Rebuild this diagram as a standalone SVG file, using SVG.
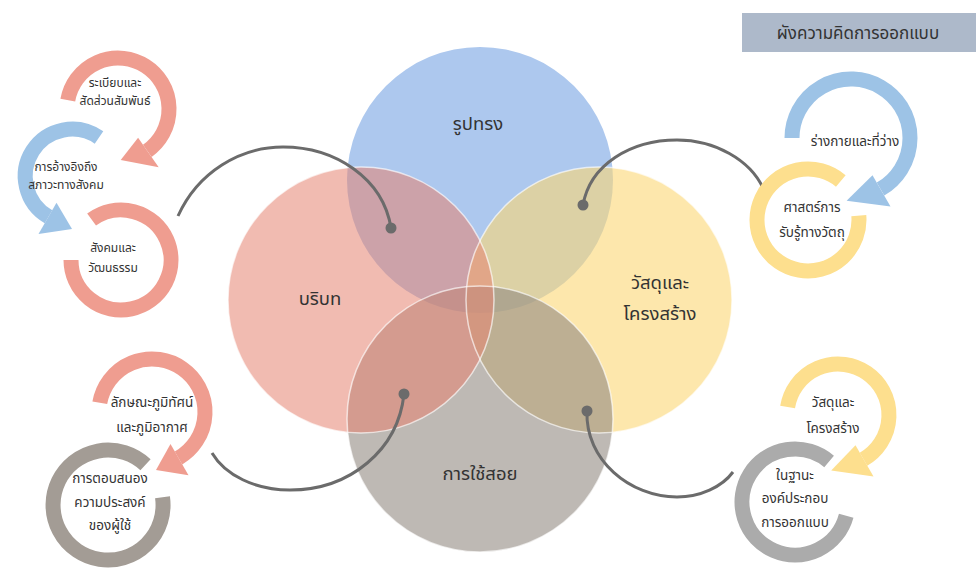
<svg xmlns="http://www.w3.org/2000/svg" width="976" height="585" viewBox="0 0 976 585">
<defs>
<style>
.t{font-family:'Noto Sans Thai','Tahoma','Noto Sans','DejaVu Sans',sans-serif;fill:#333;text-anchor:middle}
.big{font-size:18.5px}
.sm{font-size:12px}
.md{font-size:13.5px}
.edge{fill:none;stroke:#fff;stroke-width:1.5;stroke-opacity:.65}
.band{fill:none;stroke-width:15;stroke-linecap:butt}
.sal{stroke:#EF9D90}.salf{fill:#EF9D90}
.blu{stroke:#9DC3E6}.bluf{fill:#9DC3E6}
.yel{stroke:#FDDF8E}.yelf{fill:#FDDF8E}
.gry{stroke:#A39C95}
.gry2{stroke:#ABABAB}
.con{fill:none;stroke:#6B6B6B;stroke-width:3}
.dot{fill:#6B6B6B}
</style>
</defs>
<rect width="976" height="585" fill="#fff"/>

<g id="title">
<rect x="742" y="13" width="234" height="39" fill="#ADB9CA"/>
<text class="t" x="858" y="39" font-size="17">ผังความคิดการออกแบบ</text>
</g>

<g id="venn">
<circle id="c-form" cx="480" cy="180" r="133" fill="#ADC8EE"/>
<circle id="c-material" cx="599" cy="300" r="133" fill="#FCD775" fill-opacity=".6"/>
<circle id="c-use" cx="480" cy="419" r="133" fill="#938A82" fill-opacity=".6"/>
<circle id="c-context" cx="361" cy="300" r="133" fill="#E68371" fill-opacity=".55"/>
<circle class="edge" cx="599" cy="300" r="133"/>
<circle class="edge" cx="480" cy="419" r="133"/>
<circle class="edge" cx="361" cy="300" r="133"/>
</g>

<g id="venn-labels">
<text class="t big" x="478" y="130">รูปทรง</text>
<text class="t big" x="320" y="305">บริบท</text>
<text class="t big" x="660" y="289">วัสดุและ</text>
<text class="t big" x="660" y="320">โครงสร้าง</text>
<text class="t big" x="480" y="480">การใช้สอย</text>
</g>

<g id="connectors">
<path class="con" d="M178,216 C198,172 240,147 283,147 C335,147 383,178 391,228"/>
<circle class="dot" cx="391" cy="228" r="5.5"/>
<path class="con" d="M583,205 C590,165 630,140 677,140 C715,140 750,160 763,188"/>
<circle class="dot" cx="583" cy="205" r="5.5"/>
<path class="con" d="M404,394 C398,450 350,490 290,490 C255,490 225,475 212,453"/>
<circle class="dot" cx="404" cy="394" r="5.5"/>
<path class="con" d="M587,411 C585,460 630,497 677,497 C700,497 722,487 733,472"/>
<circle class="dot" cx="587" cy="411" r="5.5"/>
</g>

<g id="ring-order">
<path class="band sal" d="M67.8,100.1 A51,51 0 1 1 147.3,150.8"/>
<polygon class="salf" points="138.1,137.7 158.7,167.2 120.7,159.9"/>
<text class="t sm" x="115" y="86.5">ระเบียบและ</text>
<text class="t sm" x="115" y="104.5">สัดส่วนสัมพันธ์</text>
</g>
<g id="ring-reference">
<path class="band blu" d="M99,137.5 A47,47 0 1 0 48.5,216.7"/>
<polygon class="bluf" points="56.5,202.8 38.5,234 72,229"/>
<text class="t sm" x="66" y="171">การอ้างอิงถึง</text>
<text class="t sm" x="66" y="189">สภาวะทางสังคม</text>
</g>
<g id="ring-culture">
<path class="band sal" d="M91.6,219.5 A50,50 0 1 1 71,260"/>
<text class="t sm" x="113" y="252">สังคมและ</text>
<text class="t sm" x="113" y="272">วัฒนธรรม</text>
</g>

<g id="ring-response">
<path class="band gry" d="M162.5,497.3 A55,55 0 1 1 145.5,464.8"/>
<text class="t md" x="110" y="483">การตอบสนอง</text>
<text class="t md" x="110" y="507">ความประสงค์</text>
<text class="t md" x="110" y="530">ของผู้ใช้</text>
</g>
<g id="ring-landscape">
<path class="band sal" d="M99.8,402.8 A53,53 0 1 1 178.5,457.9"/>
<polygon class="salf" points="170.5,444 188.5,475.2 156,469.9"/>
<text class="t md" x="152" y="407">ลักษณะภูมิทัศน์</text>
<text class="t md" x="152" y="432">และภูมิอากาศ</text>
</g>

<g id="ring-perception">
<path class="band yel" d="M858.8,215.6 A51,51 0 1 1 840.8,180.9"/>
<text class="t md" x="812" y="212">ศาสตร์การ</text>
<text class="t md" x="812" y="237">รับรู้ทางวัตถุ</text>
</g>
<g id="ring-body">
<path class="band blu" d="M792,138 A59,59 0 1 1 880.5,189.1"/>
<polygon class="bluf" points="872.5,175.2 890.5,206.4 846.6,200.8"/>
<text class="t md" x="855" y="146">ร่างกายและที่ว่าง</text>
</g>

<g id="ring-component">
<path class="band gry2" d="M846.2,515.7 A53,53 0 1 1 829.1,461.4"/>
<text class="t md" x="795" y="480">ในฐานะ</text>
<text class="t md" x="795" y="503">องค์ประกอบ</text>
<text class="t md" x="795" y="527">การออกแบบ</text>
</g>
<g id="ring-structure">
<path class="band yel" d="M787.6,407 A51,51 0 1 1 863.5,459.2"/>
<polygon class="yelf" points="855.5,445.3 873.5,476.5 831.2,470.6"/>
<text class="t md" x="833" y="407">วัสดุและ</text>
<text class="t md" x="833" y="433">โครงสร้าง</text>
</g>
</svg>
